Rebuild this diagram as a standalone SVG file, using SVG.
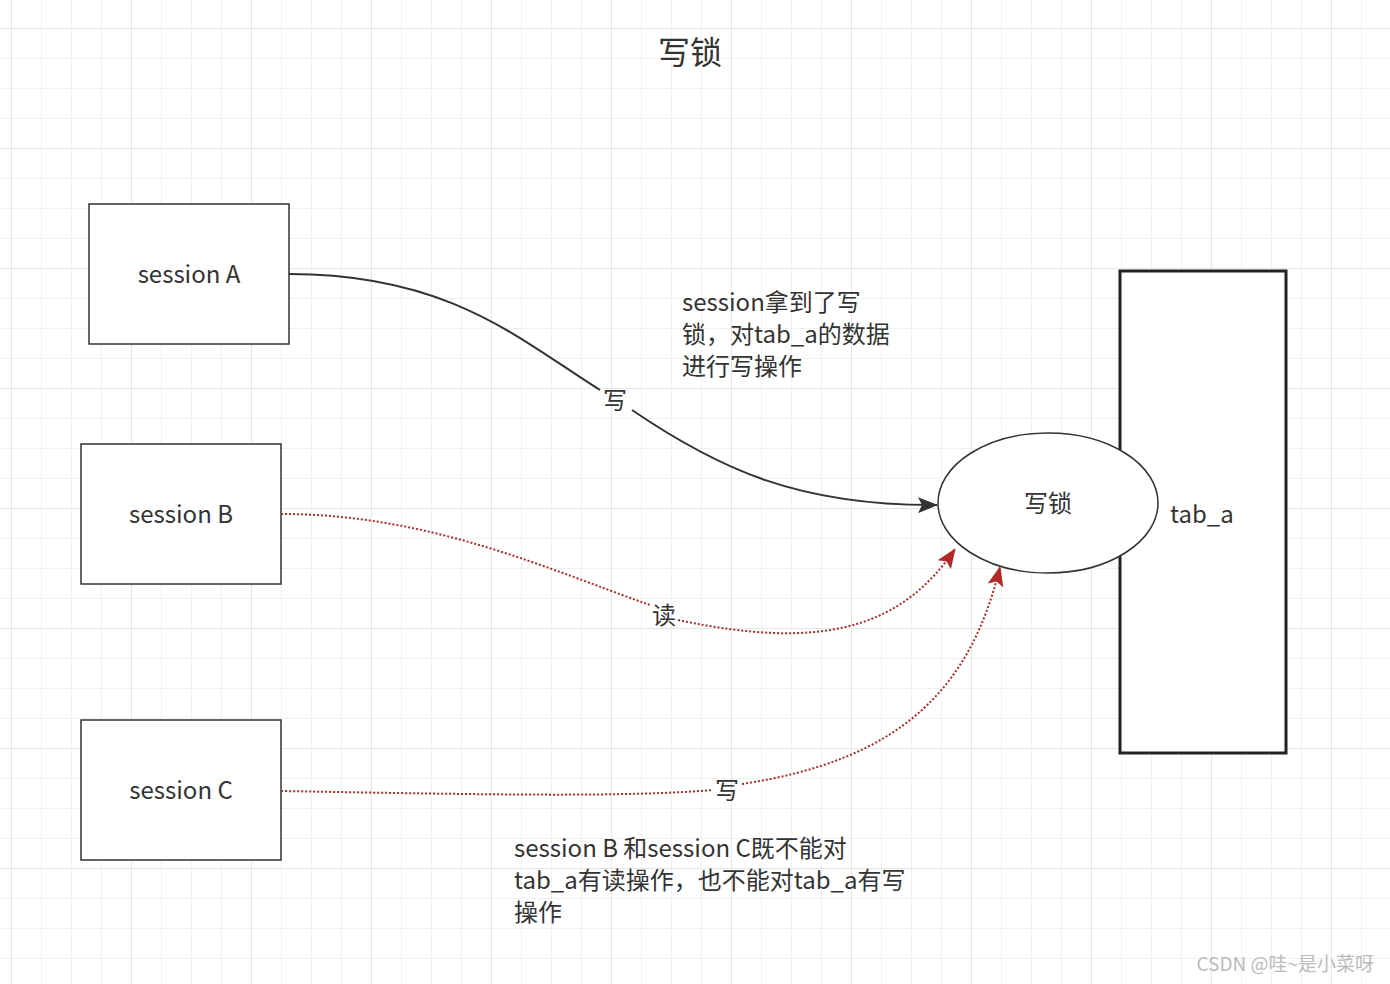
<svg xmlns="http://www.w3.org/2000/svg" width="1390" height="984" viewBox="0 0 1390 984">
<defs>
<pattern id="g" x="11" y="28" width="30" height="30" patternUnits="userSpaceOnUse"><path d="M0 0V30M0 0H30" stroke="#f0f0f0" stroke-width="2" fill="none"/></pattern>
<pattern id="G" x="11" y="28" width="120" height="120" patternUnits="userSpaceOnUse"><path d="M0 0V120M0 0H120" stroke="#e6e6e6" stroke-width="2" fill="none"/></pattern>
<marker id="ab" viewBox="0 0 20 16" markerWidth="20" markerHeight="16" refX="19" refY="8" orient="auto" markerUnits="userSpaceOnUse"><path d="M0 0L20 8L0 16L4 8Z" fill="#333"/></marker>
<marker id="ar" viewBox="0 0 20 16" markerWidth="20" markerHeight="16" refX="19" refY="8" orient="auto" markerUnits="userSpaceOnUse"><path d="M0 0L20 8L0 16L4 8Z" fill="#b22a25"/></marker>
</defs>
<style>
text{font-family:"Noto Sans CJK SC","Liberation Sans",sans-serif;fill:#333}
.b{fill:#fff;stroke:#333;stroke-width:1.5}
.t{font-size:24px;text-anchor:middle}
.l{font-size:24px}
.lb{font-size:24px;text-anchor:middle}
.r{fill:none;stroke:#b22a25;stroke-width:2;stroke-dasharray:2 2}
</style>
<rect width="1390" height="984" fill="#fff"/>
<rect width="1390" height="984" fill="url(#g)"/>
<rect width="1390" height="984" fill="url(#G)"/>
<text x="690" y="64" class="t" style="font-size:32px">写锁</text>
<g id="tab_a"><rect x="1120" y="271" width="166" height="482" fill="#fff" stroke="#222" stroke-width="3"/><text x="1170" y="523" class="l">tab_a</text></g>
<g id="lock"><ellipse cx="1048" cy="503" rx="110" ry="70" class="b"/><text x="1048" y="512" class="t">写锁</text></g>
<g id="sA"><rect x="89" y="204" width="200" height="140" class="b"/><text x="189" y="283" class="t">session A</text></g>
<g id="sB"><rect x="81" y="444" width="200" height="140" class="b"/><text x="181" y="523" class="t">session B</text></g>
<g id="sC"><rect x="81" y="720" width="200" height="140" class="b"/><text x="181" y="799" class="t">session C</text></g>
<g id="connectors">
<path d="M289 274C450 274 520 340 600 390M632 410C720 470 800 506 937 505" fill="none" stroke="#333" stroke-width="2" marker-end="url(#ab)"/>
<text x="615" y="409" class="lb">写</text>
<path d="M281 514C430 514 550 570 650 605M678 620C820 650 900 630 955 549" class="r" marker-end="url(#ar)"/>
<text x="664" y="624" class="lb">读</text>
<path d="M281 791C500 795 630 797 713 790M742 784C900 760 970 690 1000 567" class="r" marker-end="url(#ar)"/>
<text x="727" y="799" class="lb">写</text>
</g>
<text class="l"><tspan x="682" y="311">session拿到了写</tspan><tspan x="682" y="343">锁，对tab_a的数据</tspan><tspan x="682" y="375">进行写操作</tspan></text>
<text class="l"><tspan x="514" y="857">session B 和session C既不能对</tspan><tspan x="514" y="889">tab_a有读操作，也不能对tab_a有写</tspan><tspan x="514" y="921">操作</tspan></text>
<text x="1374" y="971" style="font-size:19px;fill:#bbb;text-anchor:end">CSDN @哇~是小菜呀</text>
</svg>
